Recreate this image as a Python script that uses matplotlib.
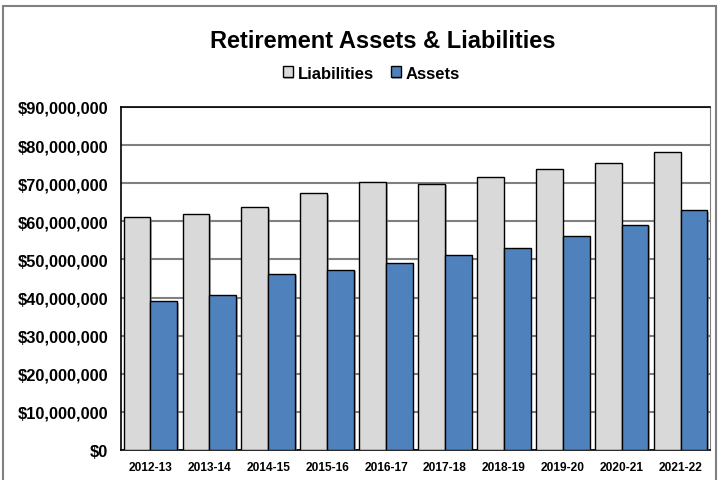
import numpy as np
import matplotlib.pyplot as plt
from matplotlib.patches import Rectangle
from matplotlib.ticker import FuncFormatter
import matplotlib.patheffects as pe

plt.rcParams['font.family'] = ['Liberation Sans', 'DejaVu Sans']
plt.rcParams['font.weight'] = 'bold'

years = ['2012-13', '2013-14', '2014-15', '2015-16', '2016-17',
         '2017-18', '2018-19', '2019-20', '2020-21', '2021-22']
liabilities = [61.1, 61.9, 63.7, 67.3, 70.3, 69.9, 71.6, 73.8, 75.2, 78.2]
assets = [39.1, 40.7, 46.3, 47.3, 49.1, 51.1, 53.0, 56.1, 59.1, 63.0]
liabilities = np.array(liabilities) * 1e6
assets = np.array(assets) * 1e6

fig = plt.figure(figsize=(7.21, 4.81), dpi=100)
ax = fig.add_axes([0.1678, 0.0624, 0.8169, 0.7131])

# outer chart frame
fig.patches.append(Rectangle((3 / 721, -0.01), 713 / 721, 1 - 7 / 481 + 0.01,
                             transform=fig.transFigure, fill=False,
                             edgecolor='#808080', linewidth=1.5))

x = np.arange(len(years))
w = 0.455
shadow = [pe.SimplePatchShadow(offset=(1.2, -1.2), shadow_rgbFace='#808080', alpha=0.6), pe.Normal()]
b1 = ax.bar(x - w / 2, liabilities, w, color='#D9D9D9', edgecolor='black', linewidth=1,
            label='Liabilities', zorder=3)
b2 = ax.bar(x + w / 2, assets, w, color='#4F81BD', edgecolor='black', linewidth=1,
            label='Assets', zorder=3)
for bar in list(b1) + list(b2):
    bar.set_path_effects(shadow)

ax.set_xlim(-0.5, len(years) - 0.5)
ax.set_ylim(0, 90e6)
ax.set_yticks(np.arange(0, 90e6 + 1, 10e6))
ax.yaxis.set_major_formatter(FuncFormatter(lambda v, p: '${:,.0f}'.format(v)))
ax.set_xticks(x)
ax.set_xticklabels(years)
ax.tick_params(axis='y', length=0, pad=9, labelsize=11.8)
ax.tick_params(axis='x', length=0, pad=8, labelsize=8.6)
ax.grid(axis='y', color='#808080', linewidth=1.5, zorder=0)
ax.set_axisbelow(True)
for s in ['left', 'bottom', 'top']:
    ax.spines[s].set_color('black')
    ax.spines[s].set_linewidth(1.2)
ax.spines['right'].set_color('#808080')

fig.text(0.531, 0.913, 'Retirement Assets & Liabilities', ha='center', va='center',
         fontsize=17, fontweight='bold')
fig.legend(handles=[b1, b2], loc='center', bbox_to_anchor=(0.515, 0.846), ncol=2,
           frameon=False, fontsize=12, handlelength=0.6, handleheight=0.6,
           handletextpad=0.3, columnspacing=1.0)

fig.savefig('out.png', dpi=100)
